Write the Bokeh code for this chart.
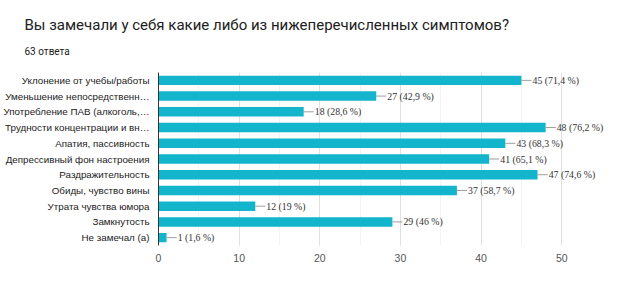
from bokeh.plotting import figure
from bokeh.models import FactorRange, Range1d, Title, LabelSet, ColumnDataSource, FixedTicker
from bokeh.embed import file_html
from bokeh.resources import INLINE

title_text = "Вы замечали у себя какие либо из нижеперечисленных симптомов?"
subtitle_text = "63 ответа"

categories = [
    "Уклонение от учебы/работы",
    "Уменьшение непосредственн…",
    "Употребление ПАВ (алкоголь,…",
    "Трудности концентрации и вн…",
    "Апатия, пассивность",
    "Депрессивный фон настроения",
    "Раздражительность",
    "Обиды, чувство вины",
    "Утрата чувства юмора",
    "Замкнутость",
    "Не замечал (а)",
]
counts = [45, 27, 18, 48, 43, 41, 47, 37, 12, 29, 1]
percent_labels = ["71,4 %", "42,9 %", "28,6 %", "76,2 %", "68,3 %", "65,1 %",
                  "74,6 %", "58,7 %", "19 %", "46 %", "1,6 %"]
x_ticks = [0, 10, 20, 30, 40, 50]
x_minor = [5, 15, 25, 35, 45]

BAR = "#12b5cb"
FONT = "Liberation Sans"
TFONT = "Roboto"

labels = [f"{c} ({p})" for c, p in zip(counts, percent_labels)]
src = ColumnDataSource(dict(cat=categories, n=counts, lab=labels,
                            n2=[c + 1.25 for c in counts]))

# frame spans 0..50 over 405 px, plus 63 px of room on the right for value labels
x_end = 50 + 63 / 8.1

p = figure(width=624, height=297, output_backend="svg", toolbar_location=None,
           y_range=FactorRange(factors=list(reversed(categories)), range_padding=0),
           x_range=Range1d(0, x_end),
           min_border_left=156, min_border_right=0, min_border_top=72, min_border_bottom=52)
p.outline_line_color = None
p.background_fill_color = "white"
p.border_fill_color = "white"

p.hbar(y="cat", right="n", left=0, height=0.6, source=src, fill_color=BAR, line_color=None)
p.segment(x0="n", x1="n2", y0="cat", y1="cat", source=src, line_color="#9e9e9e", line_width=1)
p.add_layout(LabelSet(x="n2", y="cat", text="lab", source=src, x_offset=1,
                      text_baseline="middle", text_font=FONT, text_font_size="9.8px",
                      text_color="#333333"))

# axes
p.yaxis.axis_line_color = "#333333"
p.yaxis.major_tick_line_color = None
p.yaxis.minor_tick_line_color = None
p.yaxis.major_label_text_font = FONT
p.yaxis.major_label_text_font_size = "9.8px"
p.yaxis.major_label_text_color = "#222222"
p.yaxis.major_label_standoff = 3

p.xaxis.ticker = FixedTicker(ticks=x_ticks, minor_ticks=x_minor)
p.xaxis.axis_line_color = None
p.xaxis.major_tick_line_color = None
p.xaxis.minor_tick_line_color = None
p.xaxis.major_label_text_font = FONT
p.xaxis.major_label_text_font_size = "10.5px"
p.xaxis.major_label_text_color = "#555555"
p.xaxis.major_label_standoff = 2

p.ygrid.grid_line_color = None
p.xgrid.grid_line_color = "#e0e0e0"
p.xgrid.minor_grid_line_color = "#f3f3f3"

p.add_layout(Title(text=subtitle_text, align="left", offset=-134, standoff=31,
                   text_font=TFONT, text_font_size="10px", text_font_style="normal",
                   text_color="#212121"), "above")
p.add_layout(Title(text=title_text, align="left", offset=-134, standoff=-11,
                   text_font=TFONT, text_font_size="15px", text_font_style="normal",
                   text_color="#212121"), "above")

open("out.html", "w").write(file_html(p, INLINE))
